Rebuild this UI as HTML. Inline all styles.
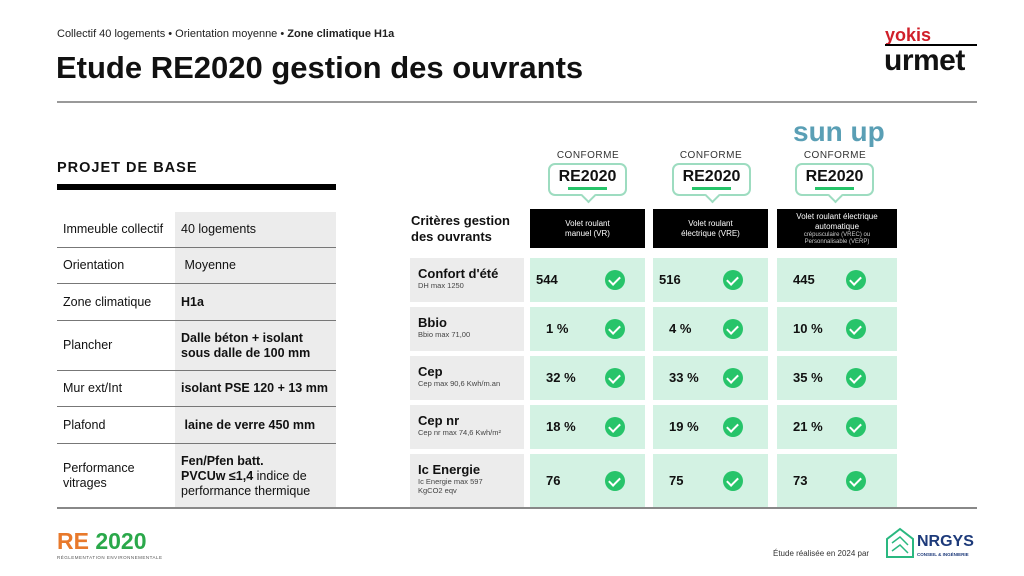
<!DOCTYPE html>
<html><head><meta charset="utf-8"><style>
*{margin:0;padding:0;box-sizing:border-box}
body{width:1024px;height:576px;background:#fff;position:relative;overflow:hidden;font-family:"Liberation Sans",sans-serif;color:#111}
.a{position:absolute}
.lrow{position:absolute;left:57px;width:279px;border-bottom:1.5px solid #777;font-size:12.5px}
.lrow .k{position:absolute;left:6px;top:0;bottom:0;display:flex;align-items:center;line-height:15px}
.lrow .v{position:absolute;left:118px;right:0;top:0;bottom:0;background:#ececec;display:flex;align-items:center;padding-left:6px;line-height:15px}
.rl{position:absolute;left:410px;width:114px;background:#ececec;padding:8px 0 0 8px}
.rl b{font-size:13px;display:block}
.rl span{font-size:7.5px;color:#444;display:block;line-height:9px}
.cell{position:absolute;background:#d3f2e3;font-size:13px;font-weight:bold}
.ck{position:absolute;width:20px;height:20px;border-radius:50%;background:#27c46a}
.ck:after{content:"";position:absolute;left:6px;top:4px;width:5px;height:9px;border-right:2.5px solid #fff;border-bottom:2.5px solid #fff;transform:rotate(45deg)}
.hd{position:absolute;top:209px;height:39px;background:#000;color:#fff;font-size:8px;text-align:center;display:flex;flex-direction:column;justify-content:center;line-height:10px}
.conf{position:absolute;top:150px;width:90px;text-align:center;font-size:10px;color:#333;letter-spacing:.5px}
.badge{position:absolute;top:163px;width:79px;height:33px;border:2px solid #9ddcc0;border-radius:7px;text-align:center;font-size:16px;font-weight:bold;padding-top:3px;line-height:18px;background:#fff}
.badge i{position:absolute;left:18px;right:18px;bottom:4px;height:3px;background:#27c46a;z-index:2}
.badge:after{content:"";position:absolute;left:33px;bottom:-7px;width:9px;height:9px;background:#fff;border-right:2px solid #9ddcc0;border-bottom:2px solid #9ddcc0;transform:rotate(45deg);z-index:1}
</style></head><body>
<div class="a" style="left:57px;top:28px;font-size:11px;color:#222">Collectif 40 logements • Orientation moyenne • <b>Zone climatique H1a</b></div>
<div class="a" style="left:56px;top:50px;font-size:31px;font-weight:bold">Etude RE2020 gestion des ouvrants</div>
<div class="a" style="left:57px;top:101px;width:920px;height:1.5px;background:#999"></div>
<div class="a" style="left:885px;top:26px;font-size:18px;font-weight:bold;color:#d0202a;line-height:18px">yokis</div>
<div class="a" style="left:885px;top:44px;width:92px;height:2px;background:#000"></div>
<div class="a" style="left:884px;top:44px;font-size:30px;font-weight:bold;line-height:34px;letter-spacing:-0.5px">urmet</div>

<div class="a" style="left:57px;top:160px;font-size:14.5px;font-weight:bold;letter-spacing:1px">PROJET DE BASE</div>
<div class="a" style="left:57px;top:184px;width:279px;height:6px;background:#000"></div>

<div class="lrow" style="top:212px;height:36px"><div class="k">Immeuble collectif</div><div class="v">40 logements</div></div>
<div class="lrow" style="top:248px;height:36px"><div class="k">Orientation</div><div class="v">&nbsp;Moyenne</div></div>
<div class="lrow" style="top:284px;height:37px"><div class="k">Zone climatique</div><div class="v"><b>H1a</b></div></div>
<div class="lrow" style="top:321px;height:50px"><div class="k">Plancher</div><div class="v"><b>Dalle béton + isolant<br>sous dalle de 100 mm</b></div></div>
<div class="lrow" style="top:371px;height:36px"><div class="k">Mur ext/Int</div><div class="v"><b>isolant PSE 120 + 13 mm</b></div></div>
<div class="lrow" style="top:407px;height:37px"><div class="k">Plafond</div><div class="v"><b>&nbsp;laine de verre 450 mm</b></div></div>
<div class="lrow" style="top:444px;height:64px;border-bottom:none"><div class="k">Performance<br>vitrages</div><div class="v"><span><b>Fen/Pfen batt.<br>PVCUw ≤1,4</b> indice de<br>performance thermique</span></div></div>
<div class="a" style="left:57px;top:507px;width:920px;height:1.5px;background:#888"></div>

<div class="a" style="left:793px;top:116px;font-size:28px;font-weight:bold;color:#5a9fb5;line-height:32px">sun up</div>
<div class="conf" style="left:543px">CONFORME</div>
<div class="conf" style="left:666px">CONFORME</div>
<div class="conf" style="left:790px">CONFORME</div>
<div class="badge" style="left:548px">RE2020<i></i></div>
<div class="badge" style="left:672px">RE2020<i></i></div>
<div class="badge" style="left:795px">RE2020<i></i></div>

<div class="a" style="left:411px;top:213px;font-size:13px;font-weight:bold;line-height:16px">Critères gestion<br>des ouvrants</div>
<div class="hd" style="left:530px;width:115px">Volet roulant<br>manuel (VR)</div>
<div class="hd" style="left:653px;width:115px">Volet roulant<br>électrique (VRE)</div>
<div class="hd" style="left:777px;width:120px"><span>Volet roulant électrique<br>automatique</span><span style="font-size:6px;line-height:7px;color:#ccc">crépusculaire (VREC) ou<br>Personnalisable (VERP)</span></div>

<div class="rl" style="top:258px;height:44px"><b>Confort d'été</b><span>DH max 1250</span></div>
<div class="rl" style="top:307px;height:44px"><b>Bbio</b><span>Bbio max 71,00</span></div>
<div class="rl" style="top:356px;height:44px"><b>Cep</b><span>Cep max 90,6 Kwh/m.an</span></div>
<div class="rl" style="top:405px;height:44px"><b>Cep nr</b><span>Cep nr max 74,6 Kwh/m²</span></div>
<div class="rl" style="top:454px;height:53px"><b>Ic Energie</b><span>Ic Energie max 597<br>KgCO2 eqv</span></div>

<div id="g"></div>
<script>
var rows=[[258,44,["544","516","445"],6],[307,44,["1 %","4 %","10 %"],16],[356,44,["32 %","33 %","35 %"],16],[405,44,["18 %","19 %","21 %"],16],[454,53,["76","75","73"],16]];
var cols=[[530,115,615],[653,115,733],[777,120,856]];
var h="";
rows.forEach(function(r,ri){cols.forEach(function(c,i){
var pad=r[3]; if(ri==0&&i==2)pad=16;
h+='<div class="cell" style="left:'+c[0]+'px;top:'+r[0]+'px;width:'+c[1]+'px;height:'+r[1]+'px;line-height:'+r[1]+'px;padding-left:'+pad+'px">'+r[2][i]+'</div>';
h+='<div class="ck" style="left:'+(c[2]-10)+'px;top:'+(r[0]+(r[1]>50?17:12))+'px"></div>';
});});
document.getElementById("g").innerHTML=h;
</script>

<div class="a" style="left:57px;top:528px;font-size:23px;font-weight:bold;line-height:26px"><span style="color:#e8792b">RE</span> <span style="color:#2aa84a">2020</span></div>
<div class="a" style="left:57px;top:555px;font-size:4.5px;color:#555;letter-spacing:.5px">RÉGLEMENTATION ENVIRONNEMENTALE</div>
<div class="a" style="left:773px;top:549px;font-size:8px;color:#333">Étude réalisée en 2024 par</div>
<svg class="a" style="left:884px;top:527px" width="32" height="32" viewBox="0 0 32 32"><path d="M3 12 L16 2 L29 12 L29 30 L3 30 Z" fill="none" stroke="#2ab880" stroke-width="2"/><path d="M8 16 L16 10 L24 18 M8 24 L16 18 L24 26" fill="none" stroke="#2ab880" stroke-width="1.5"/></svg>
<div class="a" style="left:917px;top:533px;font-size:16px;font-weight:bold;color:#1d3a7a">NRGYS</div>
<div class="a" style="left:917px;top:552px;font-size:4.5px;color:#1d3a7a;font-weight:bold">CONSEIL &amp; INGÉNIERIE</div>
</body></html>
